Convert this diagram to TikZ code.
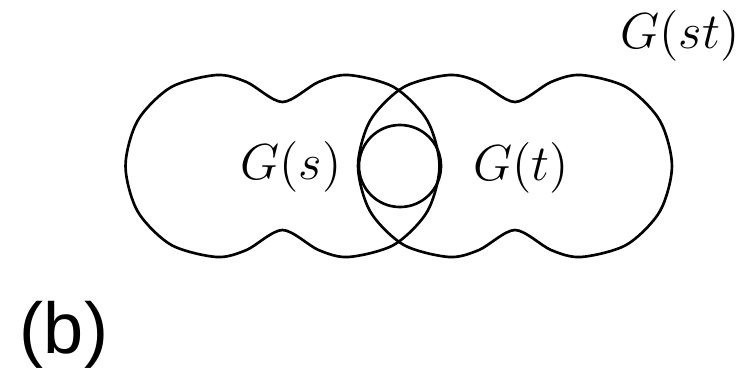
\documentclass[tikz,border=0pt]{standalone}
\usepackage{fontspec}
\newfontfamily\panelfont{Liberation Sans}
\usetikzlibrary{positioning}
\tikzset{
  outline/.style={draw=black,line width=0.75pt},
  glabel/.style={font=\Large,inner sep=0pt},
  panel/.style={font=\panelfont\fontsize{20.5}{24}\selectfont,inner sep=0pt},
}
\begin{document}
\begin{tikzpicture}[x=0.01cm,y=-0.01cm]
  \useasboundingbox (0,0) rectangle (747,375);
  % the two peanut-shaped regions
  \foreach \cx in {282.5,515}
    \draw[outline,shift={(\cx,166)}] plot[smooth cycle] coordinates {(-157,0) (-144.8,45.5) (-111.5,78.8) (-66,91) (-36,84) (0,64) (36,84) (66,91) (111.5,78.8) (144.8,45.5) (157,0) (144.8,-45.5) (111.5,-78.8) (66,-91) (36,-84) (0,-64) (-36,-84) (-66,-91) (-111.5,-78.8) (-144.8,-45.5)};
  \node[outline,circle,minimum size=8.2mm,inner sep=0pt] (core) at (400,166) {};
  \node[glabel] (Gs) at (291,167) {$G(s)$};
  \node[glabel] (Gt) at (521,168) {$G(t)$};
  \node[glabel] (Gst) at (680,36) {$G(st)$};
  \node[panel] (tag) at (64,335) {(b)};
\end{tikzpicture}
\end{document}
